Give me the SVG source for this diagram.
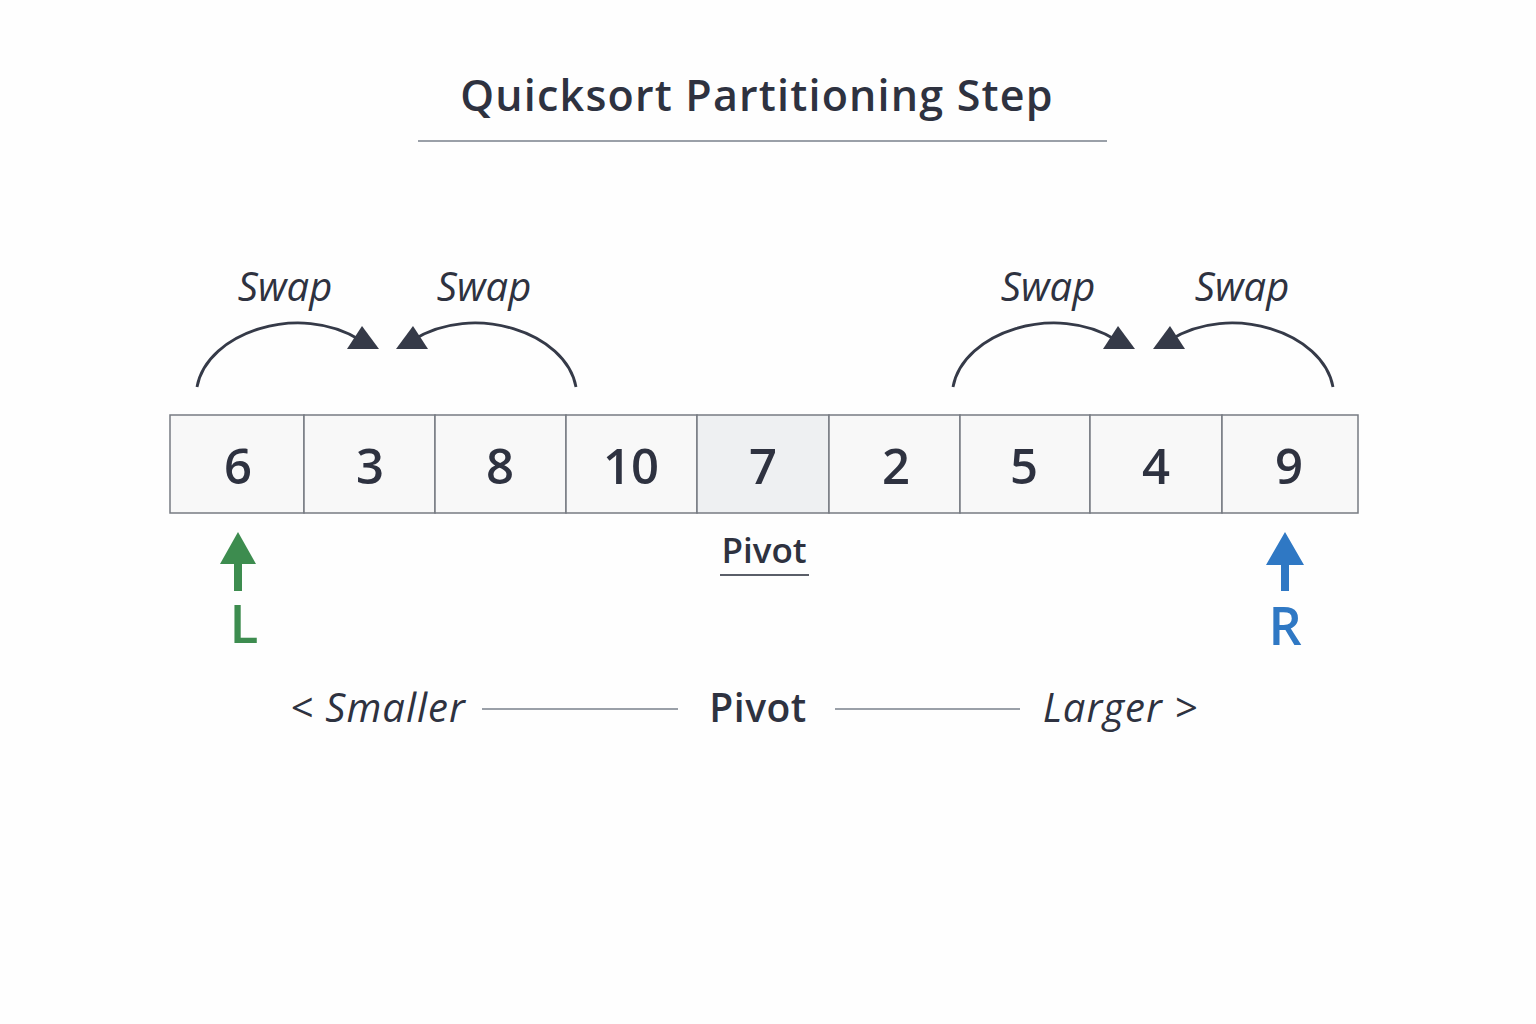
<svg xmlns="http://www.w3.org/2000/svg" width="1536" height="1024" viewBox="0 0 1536 1024">
<style>
text{font-family:"Open Sans","Noto Sans","Liberation Sans",sans-serif;fill:#2e3240}
.title{font-size:43px;font-weight:600;letter-spacing:1.2px}
.num{font-size:49px;font-weight:600;text-anchor:middle}
.cell{fill:#f8f8f8;stroke:#777b82;stroke-width:1.5}
.pcell{fill:#eef0f2;stroke:#777b82;stroke-width:1.5}
.swap{font-size:40px;font-style:italic;text-anchor:middle}
.arc{fill:none;stroke:#353a48;stroke-width:2.8}
.head{fill:#353a48}
.leg{font-size:40px;font-style:italic;letter-spacing:1px}
.rule{stroke:#9aa0a8;stroke-width:2}
</style>
<rect width="1536" height="1024" fill="#fefefe"/>
<g id="title">
<text class="title" x="757" y="111" text-anchor="middle">Quicksort Partitioning Step</text>
<line x1="418" y1="141" x2="1107" y2="141" class="rule"/>
</g>
<g id="array">
<g id="cell-0"><rect class="cell" x="170" y="415" width="134" height="98"/><text class="num" x="238" y="484">6</text></g>
<g id="cell-1"><rect class="cell" x="304" y="415" width="131" height="98"/><text class="num" x="370" y="484">3</text></g>
<g id="cell-2"><rect class="cell" x="435" y="415" width="131" height="98"/><text class="num" x="500" y="484">8</text></g>
<g id="cell-3"><rect class="cell" x="566" y="415" width="131" height="98"/><text class="num" x="631" y="484">10</text></g>
<g id="cell-4"><rect class="pcell" x="697" y="415" width="132" height="98"/><text class="num" x="763" y="484">7</text></g>
<g id="cell-5"><rect class="cell" x="829" y="415" width="131" height="98"/><text class="num" x="896" y="484">2</text></g>
<g id="cell-6"><rect class="cell" x="960" y="415" width="130" height="98"/><text class="num" x="1024" y="484">5</text></g>
<g id="cell-7"><rect class="cell" x="1090" y="415" width="132" height="98"/><text class="num" x="1156" y="484">4</text></g>
<g id="cell-8"><rect class="cell" x="1222" y="415" width="136" height="98"/><text class="num" x="1289" y="484">9</text></g>
</g>
<g id="swap-labels">
<text class="swap" x="285" y="301">Swap</text>
<text class="swap" x="484" y="301">Swap</text>
<text class="swap" x="1048" y="301">Swap</text>
<text class="swap" x="1242" y="301">Swap</text>
</g>
<g id="connectors">
<path class="arc" d="M197,387 C207,332 300,302 360,340"/>
<polygon class="head" points="379,349 347,349 362,326"/>
<path class="arc" d="M576,387 C566,332 473,302 413,340"/>
<polygon class="head" points="396,349 428,349 413,326"/>
<path class="arc" d="M953,387 C963,332 1056,302 1116,340"/>
<polygon class="head" points="1135,349 1103,349 1118,326"/>
<path class="arc" d="M1333,387 C1323,332 1230,302 1170,340"/>
<polygon class="head" points="1153,349 1185,349 1170,326"/>
</g>
<g id="pivot-label">
<text x="764" y="563" text-anchor="middle" style="font-size:35px;font-weight:600">Pivot</text>
<line x1="720" y1="575" x2="809" y2="575" stroke="#5a5e68" stroke-width="2"/>
</g>
<g id="left-pointer">
<polygon points="238,532 220,564 234,564 234,591 242,591 242,564 256,564" fill="#3d8c4f"/>
<text x="244" y="643" text-anchor="middle" style="font-size:53px;font-weight:600;fill:#3d8c4f">L</text>
</g>
<g id="right-pointer">
<polygon points="1285,532 1266,565 1281,565 1281,591 1289,591 1289,565 1304,565" fill="#2f78c4"/>
<text x="1285" y="645" text-anchor="middle" style="font-size:52px;font-weight:600;fill:#2f78c4">R</text>
</g>
<g id="legend">
<text class="leg" x="290" y="722">&lt; Smaller</text>
<line class="rule" x1="482" y1="709" x2="678" y2="709"/>
<text x="758" y="722" text-anchor="middle" style="font-size:39px;font-weight:600;letter-spacing:0.5px">Pivot</text>
<line class="rule" x1="835" y1="709" x2="1020" y2="709"/>
<text class="leg" x="1198" y="722" text-anchor="end">Larger &gt;</text>
</g>
</svg>
